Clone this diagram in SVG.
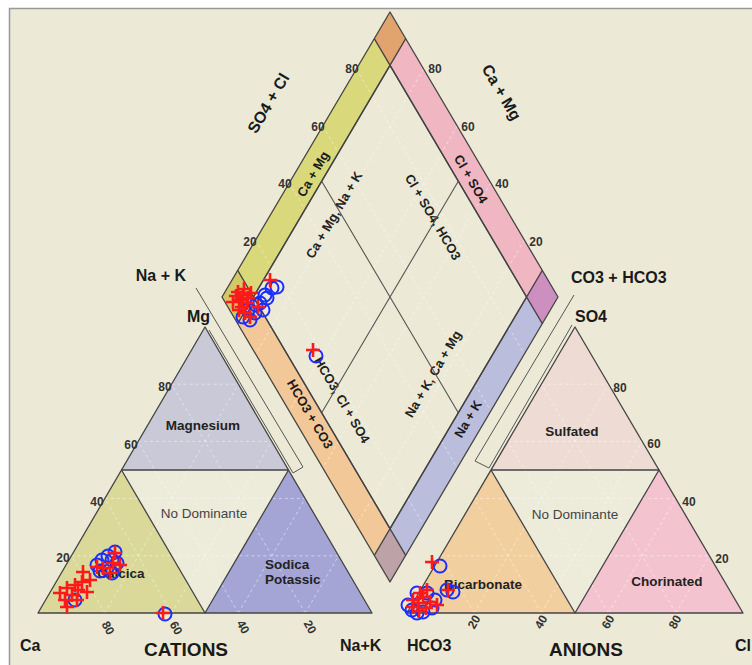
<svg xmlns="http://www.w3.org/2000/svg" width="752" height="665" viewBox="0 0 752 665">
<defs>
<style>
text{font-family:"Liberation Sans",Arial,sans-serif;fill:#1a1a1a}
.ax{font-size:16px;font-weight:bold}
.big{font-size:19px;font-weight:bold}
.tk{font-size:12px;font-weight:bold;fill:#333}
.rg{font-size:13.5px;font-weight:bold;fill:#222}
.nd{font-size:13.5px;fill:#444}
.bl{font-size:13px;font-weight:bold}
.in{font-size:13px;font-weight:bold;fill:#222}
.edge{stroke:#444;stroke-width:1.3;stroke-linejoin:round}
.grid{stroke:#fff;stroke-width:0.9;stroke-dasharray:3 3;opacity:0.55;fill:none}
.div{stroke:#555;stroke-width:1.1;fill:none}
.brk{stroke:#555;stroke-width:1;fill:none}
.pl{stroke:#ff1a1a;stroke-width:2.6;fill:none}
.ci{stroke:#1a2eff;stroke-width:2;fill:none}
</style>
<path id="p" class="pl" d="M-7,0H7M0,-7V7"/>
<circle id="o" class="ci" r="6.5"/>
</defs>

<rect x="0" y="0" width="752" height="665" fill="#fff"/>
<rect x="9" y="8" width="743" height="657" fill="#ECEAD6"/>
<path d="M9.5,665V8.5H752" fill="none" stroke="#999" stroke-width="1.5"/>

<!-- Cation triangle -->
<g id="cations">
<polygon id="calcica" points="38,613 205,613 121.5,470" fill="#DAD99A"/>
<polygon id="magnesium" points="205,327 121.5,470 288.5,470" fill="#C9C9D7"/>
<polygon id="nodom-c" points="121.5,470 288.5,470 205,613" fill="#EDEBDA"/>
<polygon id="sodica" points="205,613 372,613 288.5,470" fill="#A4A5D5"/>
<g class="grid">
<path d="M71.4,555.8H338.6M104.8,498.6H305.2M138.2,441.4H271.8M171.6,384.2H238.4"/>
<path d="M104.8,613L238.4,384.2M171.6,613L271.8,441.4M238.4,613L305.2,498.6M305.2,613L338.6,555.8"/>
<path d="M305.2,613L171.6,384.2M238.4,613L138.2,441.4M171.6,613L104.8,498.6M104.8,613L71.4,555.8"/>
</g>
<g class="edge" fill="none">
<polygon points="38,613 372,613 205,327"/>
<polyline points="121.5,470 288.5,470 205,613 121.5,470"/>
</g>
<text class="rg" x="203" y="430" text-anchor="middle">Magnesium</text>
<text class="nd" x="204" y="518" text-anchor="middle">No Dominante</text>
<text class="rg" x="121" y="578" text-anchor="middle">Calcica</text>
<text class="rg" x="265" y="569">Sodica</text>
<text class="rg" x="265" y="584">Potassic</text>
<text class="tk" x="165" y="391" text-anchor="middle">80</text>
<text class="tk" x="131" y="449" text-anchor="middle">60</text>
<text class="tk" x="97" y="506" text-anchor="middle">40</text>
<text class="tk" x="63" y="562" text-anchor="middle">20</text>
<text class="tk" text-anchor="middle" transform="translate(108,628) rotate(60)" dy="4">80</text>
<text class="tk" text-anchor="middle" transform="translate(176,628) rotate(60)" dy="4">60</text>
<text class="tk" text-anchor="middle" transform="translate(243,627) rotate(60)" dy="4">40</text>
<text class="tk" text-anchor="middle" transform="translate(310,627) rotate(60)" dy="4">20</text>
<text class="ax" x="186" y="281" text-anchor="end">Na + K</text>
<text class="ax" x="187" y="322">Mg</text>
<text class="ax" x="20" y="651">Ca</text>
<text class="big" x="186" y="656" text-anchor="middle">CATIONS</text>
<text class="ax" x="340" y="651">Na+K</text>
</g>

<!-- Anion triangle -->
<g id="anions">
<polygon id="bicarbonate" points="407,613 575,613 491,470" fill="#F1CF9F"/>
<polygon id="sulfated" points="575,327 491,470 659,470" fill="#EEDCD4"/>
<polygon id="nodom-a" points="491,470 659,470 575,613" fill="#EDEBDA"/>
<polygon id="chorinated" points="575,613 743,613 659,470" fill="#F3C4D0"/>
<g class="grid">
<path d="M440.6,555.8H709.4M474.2,498.6H675.8M507.8,441.4H642.2M541.4,384.2H608.6"/>
<path d="M474.2,613L608.6,384.2M541.4,613L642.2,441.4M608.6,613L675.8,498.6M675.8,613L709.4,555.8"/>
<path d="M675.8,613L541.4,384.2M608.6,613L507.8,441.4M541.4,613L474.2,498.6M474.2,613L440.6,555.8"/>
</g>
<g class="edge" fill="none">
<polygon points="407,613 743,613 575,327"/>
<polyline points="491,470 659,470 575,613 491,470"/>
</g>
<text class="rg" x="572" y="436" text-anchor="middle">Sulfated</text>
<text class="nd" x="575" y="519" text-anchor="middle">No Dominante</text>
<text class="rg" x="483" y="589" text-anchor="middle">Bicarbonate</text>
<text class="rg" x="667" y="586" text-anchor="middle">Chorinated</text>
<text class="tk" x="620" y="392" text-anchor="middle">80</text>
<text class="tk" x="654" y="448" text-anchor="middle">60</text>
<text class="tk" x="689" y="506" text-anchor="middle">40</text>
<text class="tk" x="722" y="563" text-anchor="middle">20</text>
<text class="tk" text-anchor="middle" transform="translate(474,622) rotate(-60)" dy="4">20</text>
<text class="tk" text-anchor="middle" transform="translate(541,622) rotate(-60)" dy="4">40</text>
<text class="tk" text-anchor="middle" transform="translate(608,622) rotate(-60)" dy="4">60</text>
<text class="tk" text-anchor="middle" transform="translate(675,622) rotate(-60)" dy="4">80</text>
<text class="ax" x="571" y="283">CO3 + HCO3</text>
<text class="ax" x="575" y="322">SO4</text>
<text class="ax" x="407" y="651">HCO3</text>
<text class="big" x="586" y="656" text-anchor="middle">ANIONS</text>
<text class="ax" x="735" y="651">Cl</text>
</g>

<!-- Diamond -->
<g id="diamond">
<polygon id="band-camg" points="390,12 222,297 237.7,323.7 405.7,38.7" fill="#D9D87A"/>
<polygon id="band-clso4" points="390,12 558,297 542.3,323.7 374.3,38.7" fill="#F0B6C2"/>
<polygon id="band-hco3" points="222,297 390,582 405.7,555.3 237.7,270.3" fill="#F3C898"/>
<polygon id="band-nak" points="390,582 558,297 542.3,270.3 374.3,555.3" fill="#BBBDDD"/>
<polygon points="390,12 374.3,38.7 390,65.4 405.7,38.7" fill="#E2A46E"/>
<polygon points="558,297 542.3,270.3 526.6,297 542.3,323.7" fill="#CC8FBF"/>
<polygon points="390,582 374.3,555.3 390,528.6 405.7,555.3" fill="#BDA2A8"/>
<polygon points="222,297 237.7,270.3 253.4,297 237.7,323.7" fill="#D3C868"/>
<g class="grid">
<path d="M356.4,69L524.4,354M322.8,126L490.8,411M289.2,183L457.2,468M255.6,240L423.6,525"/>
<path d="M423.6,69L255.6,354M457.2,126L289.2,411M490.8,183L322.8,468M524.4,240L356.4,525"/>
</g>
<g class="edge" fill="none">
<polygon points="390,12 558,297 390,582 222,297"/>
<polygon points="390,65.4 526.6,297 390,528.6 253.4,297"/>
<path d="M374.3,38.7L542.3,323.7M405.7,38.7L237.7,323.7M237.7,270.3L405.7,555.3M542.3,270.3L374.3,555.3"/>
</g>
<text class="tk" x="352" y="73" text-anchor="middle">80</text>
<text class="tk" x="318" y="131" text-anchor="middle">60</text>
<text class="tk" x="285" y="188" text-anchor="middle">40</text>
<text class="tk" x="250" y="246" text-anchor="middle">20</text>
<text class="tk" x="435" y="73" text-anchor="middle">80</text>
<text class="tk" x="468" y="131" text-anchor="middle">60</text>
<text class="tk" x="502" y="188" text-anchor="middle">40</text>
<text class="tk" x="536" y="246" text-anchor="middle">20</text>
<text class="ax" text-anchor="middle" transform="translate(268,103) rotate(-59.5)" dy="6">SO4 + Cl</text>
<text class="ax" text-anchor="middle" transform="translate(502,92) rotate(59.5)" dy="6">Ca + Mg</text>
<text class="bl" text-anchor="middle" transform="translate(313,174) rotate(-59.5)" dy="4.5">Ca + Mg</text>
<text class="bl" text-anchor="middle" transform="translate(471,179) rotate(59.5)" dy="4.5">Cl + SO4</text>
<text class="bl" text-anchor="middle" transform="translate(310,414) rotate(59.5)" dy="4.5">HCO3 + CO3</text>
<text class="bl" text-anchor="middle" transform="translate(468,419) rotate(-59.5)" dy="4.5">Na + K</text>
<text class="in" text-anchor="middle" transform="translate(334,215) rotate(-59.5)" dy="4.5">Ca + Mg, Na + K</text>
<text class="in" text-anchor="middle" transform="translate(433,217) rotate(59.5)" dy="4.5">Cl + SO4, HCO3</text>
<text class="in" text-anchor="middle" transform="translate(342,400) rotate(59.5)" dy="4.5">HCO3, Cl + SO4</text>
<text class="in" text-anchor="middle" transform="translate(433,374) rotate(-59.5)" dy="4.5">Na + K, Ca + Mg</text>
</g>

<!-- connectors: dividers and projection brackets -->
<g id="connectors">
<path class="div" d="M321.7,181.2L458.3,412.8M458.3,181.2L321.7,412.8"/>
<path class="brk" d="M196,288L303,467L293,473L209,330"/>
<path class="brk" d="M574,295L475,461L489,468L572,325"/>
</g>

<!-- data points -->
<g id="points-diamond">
<use href="#o" x="272" y="288"/><use href="#o" x="277" y="287"/><use href="#o" x="265" y="295"/>
<use href="#o" x="260" y="303"/><use href="#o" x="263" y="310"/><use href="#o" x="255" y="313"/>
<use href="#o" x="243" y="317"/><use href="#o" x="250" y="320"/><use href="#o" x="267" y="298"/>
<use href="#o" x="248" y="310"/><use href="#o" x="256" y="305"/><use href="#o" x="316" y="356"/>
<use href="#p" x="243" y="295"/><use href="#p" x="240" y="300"/><use href="#p" x="233" y="302"/>
<use href="#p" x="248" y="298"/><use href="#p" x="238" y="292"/><use href="#p" x="247" y="303"/>
<use href="#p" x="245" y="313"/><use href="#p" x="250" y="317"/><use href="#p" x="258" y="307"/>
<use href="#p" x="270" y="280"/><use href="#p" x="242" y="307"/><use href="#p" x="236" y="296"/>
<use href="#p" x="244" y="289"/><use href="#p" x="251" y="293"/><use href="#p" x="239" y="310"/>
<use href="#p" x="313" y="350"/>
</g>
<g id="points-cations">
<use href="#o" x="115" y="552"/><use href="#o" x="102" y="560"/><use href="#o" x="97" y="565"/>
<use href="#o" x="112" y="560"/><use href="#o" x="117" y="563"/><use href="#o" x="107" y="568"/>
<use href="#o" x="112" y="573"/><use href="#o" x="75" y="600"/><use href="#o" x="108" y="556"/>
<use href="#o" x="100" y="571"/><use href="#o" x="165" y="614"/>
<use href="#p" x="115" y="553"/><use href="#p" x="113" y="563"/><use href="#p" x="97" y="567"/>
<use href="#p" x="103" y="568"/><use href="#p" x="120" y="565"/><use href="#p" x="110" y="573"/>
<use href="#p" x="83" y="572"/><use href="#p" x="82" y="582"/><use href="#p" x="75" y="585"/>
<use href="#p" x="67" y="588"/><use href="#p" x="87" y="592"/><use href="#p" x="72" y="595"/>
<use href="#p" x="65" y="600"/><use href="#p" x="77" y="600"/><use href="#p" x="67" y="607"/>
<use href="#p" x="60" y="593"/><use href="#p" x="78" y="590"/><use href="#p" x="90" y="580"/>
<use href="#p" x="163" y="613"/>
</g>
<g id="points-anions">
<use href="#o" x="412" y="610"/><use href="#o" x="417" y="593"/><use href="#o" x="427" y="593"/>
<use href="#o" x="447" y="590"/><use href="#o" x="453" y="592"/><use href="#o" x="423" y="612"/>
<use href="#o" x="432" y="608"/><use href="#o" x="435" y="600"/><use href="#o" x="417" y="613"/>
<use href="#o" x="408" y="605"/><use href="#o" x="440" y="566"/>
<use href="#p" x="420" y="593"/><use href="#p" x="427" y="590"/><use href="#p" x="413" y="600"/>
<use href="#p" x="430" y="602"/><use href="#p" x="418" y="603"/><use href="#p" x="437" y="605"/>
<use href="#p" x="448" y="590"/><use href="#p" x="423" y="597"/><use href="#p" x="413" y="607"/>
<use href="#p" x="426" y="608"/><use href="#p" x="419" y="611"/><use href="#p" x="432" y="562"/>
</g>
</svg>
